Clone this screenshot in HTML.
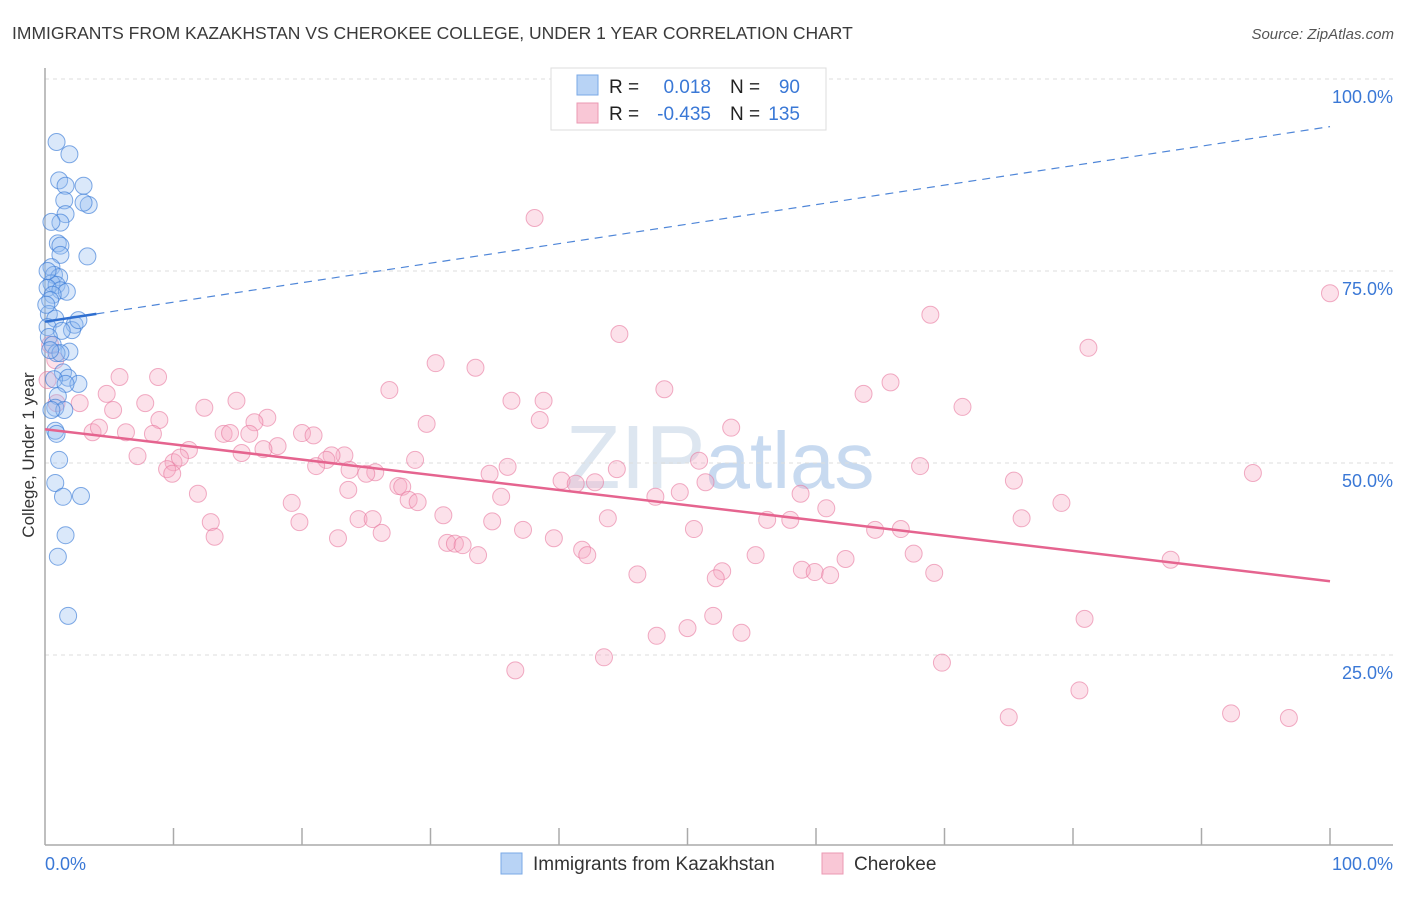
<!DOCTYPE html>
<html><head><meta charset="utf-8"><style>
body{margin:0;background:#fff;font-family:"Liberation Sans",sans-serif;}
svg text{font-family:"Liberation Sans",sans-serif;}
</style></head><body>
<svg id="chart" width="1406" height="892" xmlns="http://www.w3.org/2000/svg">
<text x="12" y="39" font-size="17.5" fill="#3a3a3a">IMMIGRANTS FROM KAZAKHSTAN VS CHEROKEE COLLEGE, UNDER 1 YEAR CORRELATION CHART</text>
<text x="1394" y="39" font-size="15" fill="#555" font-style="italic" text-anchor="end">Source: ZipAtlas.com</text>
<text x="720" y="488" font-size="90" fill="#dde6f0" text-anchor="middle" font-family="Liberation Serif">ZIP<tspan fill="#c8daf0" font-family="Liberation Sans" font-size="80">atlas</tspan></text>
<g id="grid"></g>
<g id="axes"></g>
<g id="points"></g>
<g id="trend"></g>
<g>
<rect x="551" y="68" width="275" height="62" fill="#fff" stroke="#ddd"/>
<rect x="577" y="75" width="21" height="20" fill="#b8d3f5" stroke="#7aa8e6"/>
<rect x="577" y="103" width="21" height="20" fill="#f9c7d6" stroke="#eb9ab3"/>
<text x="609" y="93" font-size="19" fill="#222">R = </text><text x="711" y="93" font-size="19" fill="#3a78d6" text-anchor="end">0.018</text>
<text x="730" y="93" font-size="19" fill="#222">N = </text><text x="800" y="93" font-size="19" fill="#3a78d6" text-anchor="end">90</text>
<text x="609" y="120" font-size="19" fill="#222">R = </text><text x="711" y="120" font-size="19" fill="#3a78d6" text-anchor="end">-0.435</text>
<text x="730" y="120" font-size="19" fill="#222">N = </text><text x="800" y="120" font-size="19" fill="#3a78d6" text-anchor="end">135</text>
</g>
<g>
<rect x="501" y="853" width="21" height="21" fill="#b8d3f5" stroke="#7aa8e6"/>
<text x="533" y="870" font-size="19" fill="#333">Immigrants from Kazakhstan</text>
<rect x="822" y="853" width="21" height="21" fill="#f9c7d6" stroke="#eb9ab3"/>
<text x="854" y="870" font-size="19" fill="#333">Cherokee</text>
</g>
<text transform="translate(34,455) rotate(-90)" font-size="17" fill="#333" text-anchor="middle">College, Under 1 year</text>
</svg>
<script>
const yTicks=[100,75,50,25];
const yTickLabels=["100.0%","75.0%","50.0%","25.0%"];
const xTickLabels=["0.0%","100.0%"];
const blueX=[0.9,1.9,1.1,1.6,3.0,1.5,3.4,3.0,1.6,1.2,0.5,1.0,1.2,3.3,1.2,0.5,0.7,1.1,0.5,0.9,0.2,1.2,1.7,0.6,0.4,0.3,0.8,0.2,2.3,2.1,2.6,1.3,0.3,0.6,1.9,0.9,1.2,1.4,1.8,0.7,2.6,1.6,1.0,0.8,1.5,0.5,0.8,0.9,1.1,0.8,1.4,2.8,1.6,1.0,1.8,0.2,0.1,0.4];
const blueY=[91.8,90.2,86.8,86.1,86.1,84.2,83.6,83.9,82.4,81.3,81.4,78.6,78.3,76.9,77.1,75.5,74.5,74.2,73.4,73.2,72.8,72.5,72.3,71.9,71.2,69.4,68.8,67.7,68.0,67.3,68.6,67.2,66.4,65.4,64.5,64.3,64.3,61.8,61.1,60.9,60.3,60.3,58.7,57.2,56.9,56.9,54.2,53.8,50.4,47.4,45.6,45.7,40.6,37.8,30.1,75.0,70.6,64.7];
const pinkX=[38.1,100,68.9,44.7,81.2,30.4,33.5,5.8,8.8,26.8,48.2,65.8,63.7,4.8,7.8,36.3,38.8,14.9,12.4,71.4,0.9,2.7,5.3,8.9,17.3,16.3,29.7,38.5,53.4,3.7,6.3,8.4,13.9,14.4,15.9,20.0,20.9,18.1,17.0,15.3,7.2,11.2,23.3,22.3,21.9,28.8,10.0,10.5,9.5,9.9,21.1,25.7,25.0,23.7,44.5,36.0,34.6,50.9,68.1,94.0,40.2,41.3,42.8,51.4,27.5,27.8,23.6,11.9,19.2,35.5,47.5,49.4,58.8,28.3,29.0,75.4,79.1,60.8,31.0,12.9,19.8,24.4,25.5,34.8,43.8,56.2,58.0,76.0,37.2,50.5,64.6,66.6,26.2,13.2,22.8,39.6,31.3,31.9,32.5,33.7,41.8,42.2,55.3,62.3,67.6,87.6,52.7,52.2,58.9,59.9,61.1,46.1,69.2,52.0,50.0,47.6,54.2,80.9,43.5,69.8,36.6,80.5,75.0,92.3,96.8,4.2,0.4,0.8,0.2];
const pinkY=[81.9,72.1,69.3,66.8,65.0,63.0,62.4,61.2,61.2,59.5,59.6,60.5,59.0,59.0,57.8,58.1,58.1,58.1,57.2,57.3,57.8,57.8,56.9,55.6,55.9,55.3,55.1,55.6,54.6,54.0,54.0,53.8,53.8,53.9,53.8,53.9,53.6,52.2,51.8,51.3,50.9,51.7,51.0,51.0,50.4,50.4,50.1,50.7,49.2,48.6,49.6,48.8,48.6,49.1,49.2,49.5,48.6,50.3,49.6,48.7,47.7,47.3,47.5,47.5,47.0,46.9,46.5,46.0,44.8,45.6,45.6,46.2,46.0,45.2,44.9,47.7,44.8,44.1,43.2,42.3,42.3,42.7,42.7,42.4,42.8,42.6,42.6,42.8,41.3,41.4,41.3,41.4,40.9,40.4,40.2,40.2,39.6,39.5,39.3,38.0,38.7,38.0,38.0,37.5,38.2,37.4,35.9,35.0,36.1,35.8,35.4,35.5,35.7,30.1,28.5,27.5,27.9,29.7,24.7,24.0,23.0,20.4,16.9,17.4,16.8,54.6,65.4,63.4,60.8];
const blueTrend=[68.4,93.8];
const pinkTrend=[54.4,34.6];
const X0=45,X1=1330,YB=847,PX=7.68;
function sx(v){return X0+(X1-X0)*v/100;}
function sy(v){return YB-v*PX;}
const NS="http://www.w3.org/2000/svg";
function mk(tag,attrs,parent){const e=document.createElementNS(NS,tag);for(const k in attrs)e.setAttribute(k,attrs[k]);parent.appendChild(e);return e;}
const grid=document.getElementById('grid'),axes=document.getElementById('axes'),pts=document.getElementById('points'),tr=document.getElementById('trend');
yTicks.forEach((t,i)=>{
 const l=mk('line',{x1:45,x2:1393,y1:sy(t),y2:sy(t),stroke:'#ddd','stroke-dasharray':'4,4'},grid);
 
 
 const tx=mk('text',{x:1393,y:sy(t)+24,'font-size':18,fill:'#3a78d6','text-anchor':'end'},grid);
 tx.textContent=yTickLabels[i];
 
 
});
const ya=mk('line',{x1:45,x2:45,y1:68,y2:845,stroke:'#aaa','stroke-width':1.5},axes);


const xa=mk('line',{x1:45,x2:1393,y1:845,y2:845,stroke:'#aaa','stroke-width':1.5},axes);


for(let i=1;i<=10;i++){
 const t=mk('line',{x1:sx(i*10),x2:sx(i*10),y1:828,y2:845,stroke:'#aaa','stroke-width':1.5},axes);
 
 
}
const xl0=mk('text',{x:45,y:870,'font-size':18,fill:'#3a78d6'},axes);
xl0.textContent=xTickLabels[0];


const xl1=mk('text',{x:1393,y:870,'font-size':18,fill:'#3a78d6','text-anchor':'end'},axes);
xl1.textContent=xTickLabels[1];


pinkX.forEach((x,i)=>{
 const c=mk('circle',{cx:sx(x),cy:sy(pinkY[i]),r:8.5,fill:'rgba(246,170,195,0.35)',stroke:'rgba(232,120,158,0.6)','stroke-width':1},pts);
 
 
});
blueX.forEach((x,i)=>{
 const c=mk('circle',{cx:sx(x),cy:sy(blueY[i]),r:8.5,fill:'rgba(150,190,240,0.35)',stroke:'rgba(60,125,215,0.65)','stroke-width':1},pts);
 
 
});
const bs=mk('line',{x1:sx(0),y1:sy(blueTrend[0]),x2:sx(4),y2:sy(blueTrend[0]+(blueTrend[1]-blueTrend[0])*0.04),stroke:'#2f6fd0','stroke-width':2.5},tr);


const bd=mk('line',{x1:sx(4),y1:sy(blueTrend[0]+(blueTrend[1]-blueTrend[0])*0.04),x2:sx(100),y2:sy(blueTrend[1]),stroke:'#4f86d8','stroke-width':1.2,'stroke-dasharray':'8,6'},tr);


const pl=mk('line',{x1:sx(0),y1:sy(pinkTrend[0]),x2:sx(100),y2:sy(pinkTrend[1]),stroke:'#e5648f','stroke-width':2.5},tr);


</script>
</body></html>
